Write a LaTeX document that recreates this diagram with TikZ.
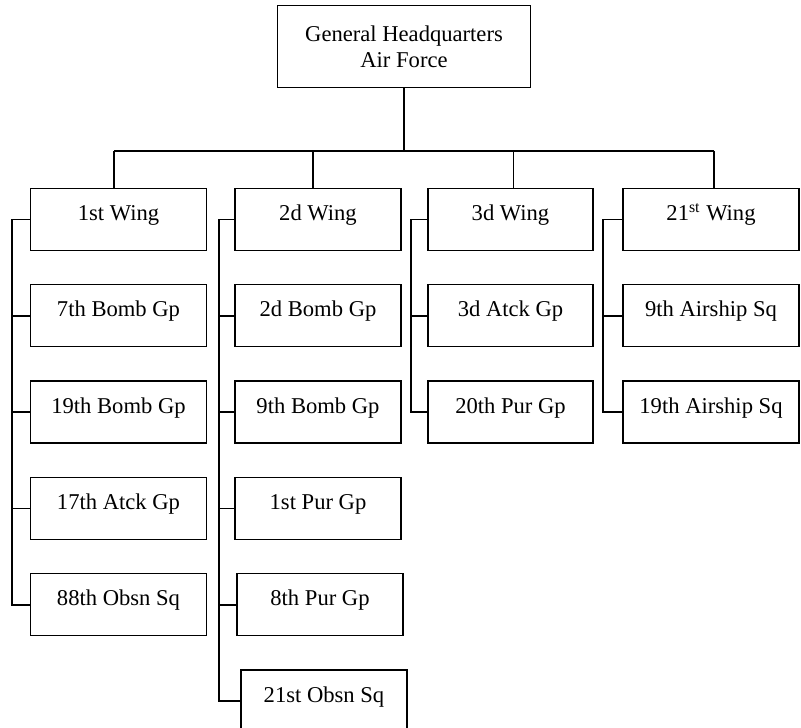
\documentclass[tikz,border=0pt]{standalone}
\usepackage{fontspec}
\setmainfont{Liberation Serif}
\usepackage{tikz}
\usetikzlibrary{
  positioning,
}
\tikzstyle{box} = [
  draw,
  rectangle,
  line width=0.65pt,
  inner sep=0pt,
  font=\fontsize{11.3}{13.2}\selectfont,
]
\tikzstyle{unit} = [
  box,
  minimum height=31pt,
  text height=8pt,
  text depth=7pt,
]
\tikzstyle{col1} = [minimum width=88pt]
\tikzstyle{col2} = [minimum width=83pt]
\tikzstyle{col3} = [minimum width=82.5pt]
\tikzstyle{col4} = [minimum width=88pt]
\tikzstyle{link} = [
  line width=0.9pt,
]

\begin{document}
\begin{tikzpicture}[x=0.5pt,y=-0.5pt,node distance=16.5pt]
    \useasboundingbox (0,0) rectangle (801,727);

        \node[box,align=center,minimum width=126.5pt,minimum height=41pt] (ghq) at (404,46.7) {General Headquarters\\Air Force};

        \node[unit,col1] (w1) at (118.5,219.5) {1st Wing};
        \node[unit,col2] (w2) at (318,219.5) {2d Wing};
        \node[unit,col3] (w3) at (510.5,219.5) {3d Wing};
        \node[unit,col4] (w4) at (711,219.5) {21\textsuperscript{st} Wing};

        \node[unit,col1] (b7) [below=of w1] {7th Bomb Gp};
        \node[unit,col1] (b19) [below=of b7] {19th Bomb Gp};
        \node[unit,col1] (a17) [below=of b19] {17th Atck Gp};
        \node[unit,col1] (o88) [below=of a17] {88th Obsn Sq};

        \node[unit,col2] (b2) [below=of w2] {2d Bomb Gp};
        \node[unit,col2] (b9) [below=of b2] {9th Bomb Gp};
        \node[unit,col2] (p1) [below=of b9] {1st Pur Gp};
        \node[unit,col2,xshift=1pt] (p8) [below=of p1] {8th Pur Gp};
        \node[unit,col2,xshift=2pt] (o21) [below=of p8] {21st Obsn Sq};

        \node[unit,col3] (a3) [below=of w3] {3d Atck Gp};
        \node[unit,col3] (p20) [below=of a3] {20th Pur Gp};

        \node[unit,col4] (s9) [below=of w4] {9th Airship Sq};
        \node[unit,col4] (s19) [below=of s9] {19th Airship Sq};

        % bar under the headquarters
        \coordinate (bar) at (404,150.7);
        \coordinate (d1) at (114,150.7);
        \coordinate (d2) at (313.3,150.7);
        \coordinate (d3) at (513.5,150.7);
        \coordinate (d4) at (713.7,150.7);

        \draw[link] (ghq.south) -- (bar);
        \draw[link] (d1) -- (d4);
        \draw[link] (d1) -- (d1 |- w1.north);
        \draw[link] (d2) -- (d2 |- w2.north);
        \draw[link] (d3) -- (d3 |- w3.north);
        \draw[link] (d4) -- (d4 |- w4.north);

        % trunks left of each wing
        \coordinate (t1) at (12,0);
        \coordinate (t2) at (219,0);
        \coordinate (t3) at (410.7,0);
        \coordinate (t4) at (603.3,0);

        \draw[link] (w1.west) -- (w1.west -| t1) |- (o88.west);
        \draw[link] (w1.west -| t1) |- (b7.west);
        \draw[link] (w1.west -| t1) |- (b19.west);
        \draw[link] (w1.west -| t1) |- (a17.west);

        \draw[link] (w2.west) -- (w2.west -| t2) |- (o21.west);
        \draw[link] (w2.west -| t2) |- (b2.west);
        \draw[link] (w2.west -| t2) |- (b9.west);
        \draw[link] (w2.west -| t2) |- (p1.west);
        \draw[link] (w2.west -| t2) |- (p8.west);

        \draw[link] (w3.west) -- (w3.west -| t3) |- (p20.west);
        \draw[link] (w3.west -| t3) |- (a3.west);

        \draw[link] (w4.west) -- (w4.west -| t4) |- (s19.west);
        \draw[link] (w4.west -| t4) |- (s9.west);

    \end{tikzpicture}
\end{document}
